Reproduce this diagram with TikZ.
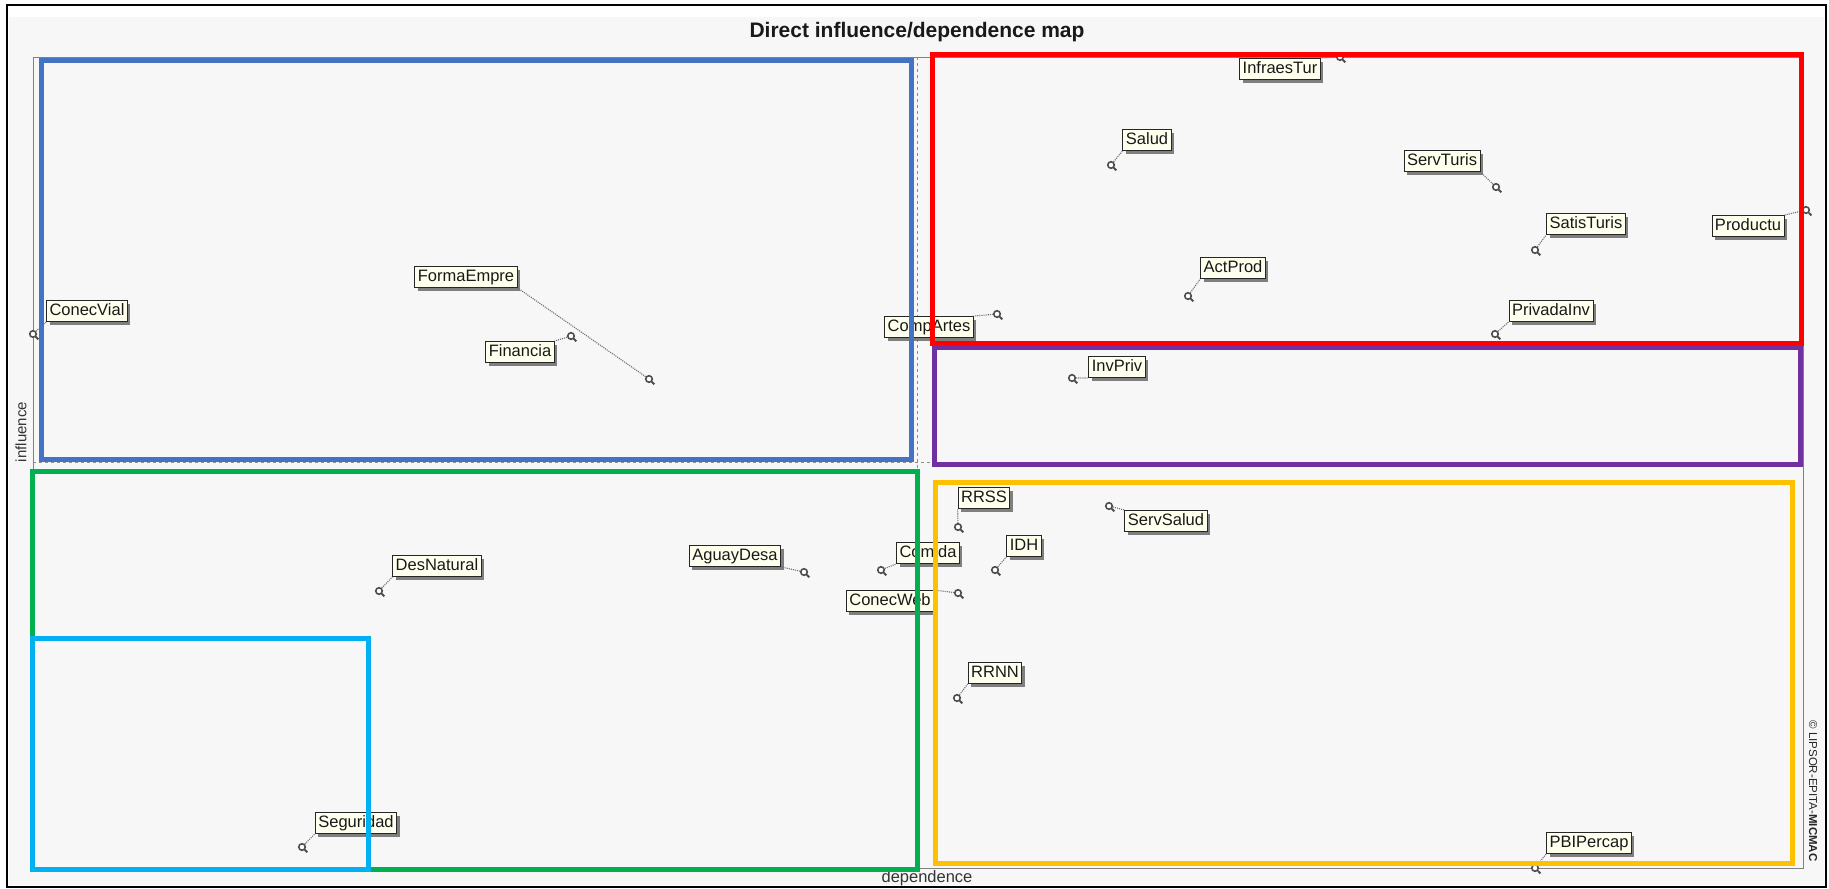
\documentclass[tikz,border=0pt]{standalone}
\usepackage{fontspec}
\setmainfont{Liberation Sans}
\usetikzlibrary{shadows}
\definecolor{bggray}{HTML}{F7F7F7}
\definecolor{labfill}{HTML}{FFFFEE}
\definecolor{qblue}{HTML}{4472C4}
\definecolor{qred}{HTML}{FF0000}
\definecolor{qpurple}{HTML}{7030A0}
\definecolor{qgreen}{HTML}{00B050}
\definecolor{qcyan}{HTML}{00B0F0}
\definecolor{qyellow}{HTML}{FFC000}
\begin{document}
\begin{tikzpicture}[x=1pt,y=-1pt,
  lab/.style={draw=black!85, line width=0.9pt, fill=labfill, inner xsep=3pt, inner ysep=2.5pt,
    text height=12.5pt, text depth=3.5pt, font=\fontsize{16.5}{18}\selectfont, text=black!90,
    drop shadow={shadow xshift=3pt, shadow yshift=-3pt, fill=black!55, opacity=0.9}},
  mk/.style={circle, draw=black!70, line width=1.6pt, minimum size=6.5pt, inner sep=0pt, fill=white,
    append after command={(\tikzlastnode.south east) edge[draw=black!70, line width=1.8pt] ++(2.5,2.5)}},
  conn/.style={draw=black!55, densely dotted, line width=1.1pt},
  quad/.style={line width=5pt},
  axisdash/.style={draw=black!45, dashed, line width=0.8pt}]
\useasboundingbox (0,0) rectangle (1829,889);
% background and frame
\fill[white] (0,0) rectangle (1829,889);
\fill[bggray] (9,17) rectangle (1824,885);
\draw[black, line width=2.5pt] (7,5) rectangle (1826,887);
\node[font=\bfseries\fontsize{21}{24}\selectfont, text=black!90] (title) at (917,32) {Direct influence/dependence map};
% plot frame and axes
\draw[black!50, line width=1pt] (33,57) rectangle (1803,868);
\coordinate (vtop) at (917,57);
\coordinate (vbot) at (917,868);
\coordinate (hleft) at (33,462);
\coordinate (hright) at (1803,462);
\draw[axisdash] (vtop) -- (vbot);
\draw[axisdash] (hleft) -- (hright);
\node[font=\fontsize{15}{17}\selectfont, text=black!80, rotate=90] (yl) at (21,432) {influence};
\node[font=\fontsize{16.5}{18}\selectfont, text=black!80] (xl) at (927,878) {dependence};
\node[font=\fontsize{11.5}{13}\selectfont, text=black!85, rotate=-90] (copy) at (1813,791) {© LIPSOR-EPITA-\textbf{MICMAC}};
% markers
\node[mk] (mInfraesTur) at (1340,57) {};
\node[mk] (mSalud) at (1111,165) {};
\node[mk] (mServTuris) at (1496,187) {};
\node[mk] (mSatisTuris) at (1535,250) {};
\node[mk] (mProductu) at (1806,210) {};
\node[mk] (mActProd) at (1188,296) {};
\node[mk] (mPrivadaInv) at (1495,334) {};
\node[mk] (mCompArtes) at (997,314) {};
\node[mk] (mInvPriv) at (1072,378) {};
\node[mk] (mConecVial) at (33,334) {};
\node[mk] (mFormaEmpre) at (649,379) {};
\node[mk] (mFinancia) at (571,336) {};
\node[mk] (mRRSS) at (958,527) {};
\node[mk] (mServSalud) at (1109,506) {};
\node[mk] (mIDH) at (995,570) {};
\node[mk] (mComida) at (881,570) {};
\node[mk] (mAguayDesa) at (804,572) {};
\node[mk] (mConecWeb) at (958,593) {};
\node[mk] (mDesNatural) at (379,591) {};
\node[mk] (mRRNN) at (957,698) {};
\node[mk] (mSeguridad) at (302,847) {};
\node[mk] (mPBIPercap) at (1535,868) {};
% labels
\node[lab] (InfraesTur) at (1280,69) {InfraesTur};
\node[lab] (Salud) at (1147,140) {Salud};
\node[lab] (ServTuris) at (1442,161) {ServTuris};
\node[lab] (SatisTuris) at (1586,224) {SatisTuris};
\node[lab] (Productu) at (1748,226) {Productu};
\node[lab] (ActProd) at (1233,268) {ActProd};
\node[lab] (PrivadaInv) at (1551,311) {PrivadaInv};
\node[lab] (CompArtes) at (929,327) {CompArtes};
\node[lab] (InvPriv) at (1117,367) {InvPriv};
\node[lab] (ConecVial) at (87,311) {ConecVial};
\node[lab] (FormaEmpre) at (466,277) {FormaEmpre};
\node[lab] (Financia) at (520,352) {Financia};
\node[lab] (RRSS) at (984,498) {RRSS};
\node[lab] (ServSalud) at (1166,521) {ServSalud};
\node[lab] (IDH) at (1024,546) {IDH};
\node[lab] (Comida) at (928,553) {Comida};
\node[lab] (AguayDesa) at (735,556) {AguayDesa};
\node[lab] (ConecWeb) at (890,601) {ConecWeb};
\node[lab] (DesNatural) at (437,566) {DesNatural};
\node[lab] (RRNN) at (995,673) {RRNN};
\node[lab] (Seguridad) at (356,823) {Seguridad};
\node[lab] (PBIPercap) at (1589,843) {PBIPercap};
% connectors
\draw[conn] (mInfraesTur) -- (InfraesTur.north east);
\draw[conn] (mSalud) -- (Salud.south west);
\draw[conn] (mServTuris) -- (ServTuris.south east);
\draw[conn] (mSatisTuris) -- (SatisTuris.south west);
\draw[conn] (mProductu) -- (Productu.north east);
\draw[conn] (mActProd) -- (ActProd.south west);
\draw[conn] (mPrivadaInv) -- (PrivadaInv.south west);
\draw[conn] (mCompArtes) -- (CompArtes.north east);
\draw[conn] (mInvPriv) -- (InvPriv.south west);
\draw[conn] (mConecVial) -- (ConecVial.south west);
\draw[conn] (mFormaEmpre) -- (FormaEmpre.south east);
\draw[conn] (mFinancia) -- (Financia.north east);
\draw[conn] (mRRSS) -- (RRSS.south west);
\draw[conn] (mServSalud) -- (ServSalud.north west);
\draw[conn] (mIDH) -- (IDH.south west);
\draw[conn] (mComida) -- (Comida.south west);
\draw[conn] (mAguayDesa) -- (AguayDesa.south east);
\draw[conn] (mConecWeb) -- (ConecWeb.north east);
\draw[conn] (mDesNatural) -- (DesNatural.south west);
\draw[conn] (mRRNN) -- (RRNN.south west);
\draw[conn] (mSeguridad) -- (Seguridad.south west);
\draw[conn] (mPBIPercap) -- (PBIPercap.south west);
% quadrant rectangles
\draw[quad, qblue] (41,60) rectangle (911,459);
\draw[quad, qred] (932,54.5) rectangle (1801,343.5);
\draw[quad, qpurple] (934,347.5) rectangle (1800,464.5);
\draw[quad, qgreen] (32,471) rectangle (917,869);
\draw[quad, qcyan] (32,638.5) rectangle (368,869);
\draw[quad, qyellow] (935,482) rectangle (1792,863.5);
\end{tikzpicture}
\end{document}
